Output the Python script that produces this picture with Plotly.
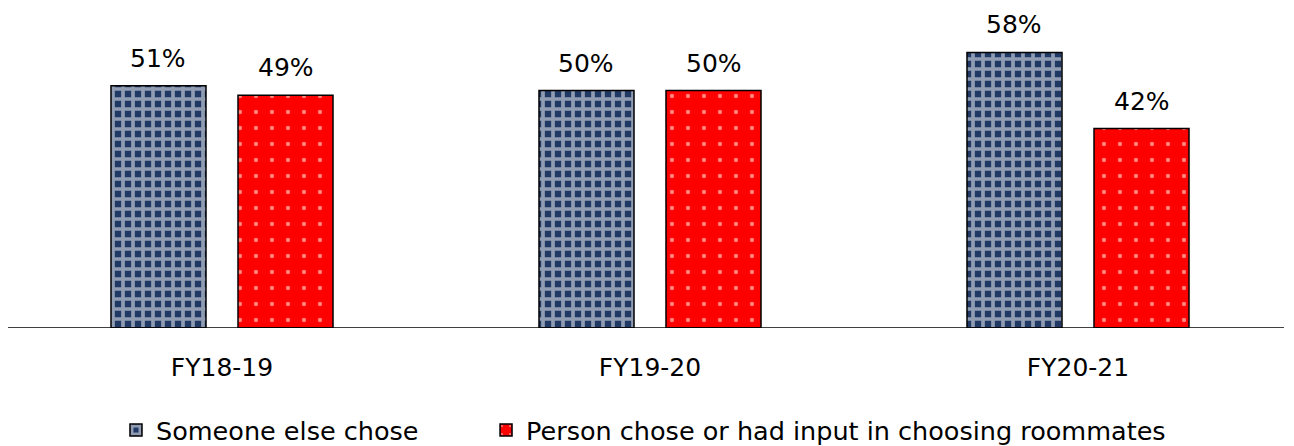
import plotly.graph_objects as go

categories = ["FY18-19", "FY19-20", "FY20-21"]
someone_else = [0.51, 0.50, 0.58]
person_chose = [0.49, 0.50, 0.42]
series_names = ["Someone else chose", "Person chose or had input in choosing roommates"]

FONT = "DejaVu Sans"
fig = go.Figure()
fig.add_trace(go.Bar(
    x=categories, y=someone_else, name=series_names[0], legend="legend",
    marker=dict(color="#1F3864", line=dict(color="black", width=1.5),
                pattern=dict(shape="+", fgcolor="white", bgcolor="#1F3864", size=10, solidity=0.6)),
))
fig.add_trace(go.Bar(
    x=categories, y=person_chose, name=series_names[1], legend="legend2",
    marker=dict(color="#FF0000", line=dict(color="black", width=1.5),
                pattern=dict(shape=".", fgcolor="white", bgcolor="#FF0000", size=16, solidity=0.06)),
))

off = 0.1484
for i, c in enumerate(categories):
    for v, dx in ((someone_else[i], -off), (person_chose[i], off)):
        fig.add_annotation(x=i + dx, y=v, text=f"{round(v*100)}%", showarrow=False,
                           yanchor="bottom", yshift=11, font=dict(family=FONT, size=25, color="black"))

# baseline (axis line) spanning the chart width
fig.add_shape(type="line", xref="paper", yref="y", x0=0, x1=1276/1284, y0=0, y1=0,
              line=dict(color="black", width=1.5))

leg_font = dict(family=FONT, size=25.5, color="black")
fig.update_layout(
    width=1294, height=446,
    margin=dict(l=0, r=10, t=16, b=125),
    plot_bgcolor="white", paper_bgcolor="white",
    barmode="group", bargap=0.4065, bargroupgap=0.252,
    font=dict(family=FONT, size=25, color="black"),
    showlegend=True,
    legend=dict(orientation="h", x=0.0841, xanchor="left", y=-0.336, yanchor="middle",
                font=leg_font, itemwidth=30),
    legend2=dict(orientation="h", x=0.3723, xanchor="left", y=-0.336, yanchor="middle",
                 font=leg_font, itemwidth=30),
    xaxis=dict(showline=False, ticks="", showgrid=False, zeroline=False,
               ticklabelstandoff=22, tickfont=dict(family=FONT, size=25)),
    yaxis=dict(range=[0, 0.64], visible=False, showgrid=False, zeroline=False),
)
fig.write_html("out.html")
